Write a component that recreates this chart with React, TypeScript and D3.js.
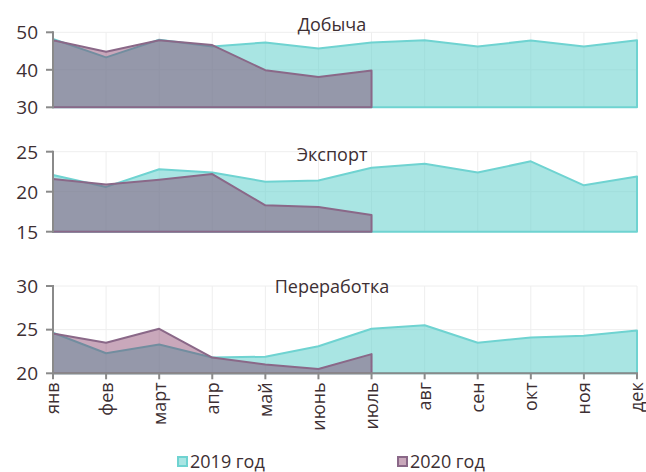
import * as React from "react"
import * as d3 from "d3"

const months = ["янв", "фев", "март", "апр", "май", "июнь", "июль", "авг", "сен", "окт", "ноя", "дек"]

const dobycha2019 = [48.2, 43.3, 48.0, 46.2, 47.3, 45.7, 47.3, 47.9, 46.2, 47.8, 46.2, 47.9]
const dobycha2020 = [47.9, 44.8, 47.9, 46.6, 39.9, 38.1, 39.8]
const eksport2019 = [22.1, 20.6, 22.8, 22.4, 21.25, 21.4, 23.0, 23.5, 22.4, 23.8, 20.8, 21.9]
const eksport2020 = [21.6, 20.9, 21.5, 22.2, 18.3, 18.1, 17.1]
const pererab2019 = [24.65, 22.3, 23.3, 21.8, 21.9, 23.1, 25.1, 25.5, 23.5, 24.1, 24.3, 24.9]
const pererab2020 = [24.55, 23.5, 25.1, 21.8, 21.0, 20.5, 22.2]

const seriesNames = ["2019 год", "2020 год"]

const W = 646
const H = 472
const FONT = "'Open Sans', sans-serif"
const TEXT = "#3d2f33"

const c2019 = { fill: "#6fd3d1", fillOpacity: 0.6, stroke: "#6fd3d1" }
const c2020 = { fill: "#782555", fillOpacity: 0.4, stroke: "#8a6888" }

const panels = [
  { title: "Добыча", d2019: dobycha2019, d2020: dobycha2020, domain: [30, 50], ticks: [30, 40, 50], range: [107.3, 32.3], titleY: 31 },
  { title: "Экспорт", d2019: eksport2019, d2020: eksport2020, domain: [15, 25], ticks: [15, 20, 25], range: [231.7, 151.7], titleY: 161 },
  { title: "Переработка", d2019: pererab2019, d2020: pererab2020, domain: [20, 30], ticks: [20, 25, 30], range: [373.3, 286], titleY: 293 },
]

const x = d3.scalePoint<string>().domain(months).range([53, 637])

function Panel({ p, last }: { p: (typeof panels)[number]; last: boolean }) {
  const y = d3.scaleLinear().domain(p.domain).range(p.range)
  const bottom = y(p.domain[0])
  const top = y(p.domain[1])
  const area = d3
    .area<number>()
    .x((_d, i) => x(months[i]) as number)
    .y0(bottom)
    .y1((d) => y(d))

  return (
    <g>
      {/* grid */}
      {p.ticks.map((t) => (
        <line key={"h" + t} x1={x.range()[0]} x2={x.range()[1]} y1={y(t)} y2={y(t)} stroke="#eeeeee" />
      ))}
      {months.map((m) => (
        <line key={"v" + m} x1={x(m)} x2={x(m)} y1={top} y2={bottom} stroke="#eeeeee" />
      ))}

      <path d={area(p.d2019) ?? ""} fill={c2019.fill} fillOpacity={c2019.fillOpacity} stroke={c2019.stroke} strokeWidth={2} strokeLinejoin="round" />
      <path d={area(p.d2020) ?? ""} fill={c2020.fill} fillOpacity={c2020.fillOpacity} stroke={c2020.stroke} strokeWidth={2} strokeLinejoin="round" />

      <text x={332} y={p.titleY} textAnchor="middle" fontFamily={FONT} fontSize={18} fill={TEXT}>
        {p.title}
      </text>

      {/* y axis */}
      <line x1={53} x2={53} y1={top - 1} y2={bottom + 1} stroke="#8a8a8a" strokeWidth={2} />
      {p.ticks.map((t) => (
        <g key={"t" + t}>
          <line x1={46} x2={53} y1={y(t)} y2={y(t)} stroke="#8a8a8a" strokeWidth={2} />
          <text x={38} y={y(t)} dy="0.36em" textAnchor="end" fontFamily={FONT} fontSize={19} fill={TEXT}>
            {t}
          </text>
        </g>
      ))}

      {last && (
        <g>
          <line x1={52} x2={638} y1={bottom} y2={bottom} stroke="#8a8a8a" strokeWidth={2} />
          {months.map((m) => (
            <g key={"x" + m} transform={`translate(${x(m)},${bottom})`}>
              <line y1={0} y2={6} stroke="#8a8a8a" strokeWidth={2} />
              <text transform="rotate(-90)" x={-9} dy="0.36em" textAnchor="end" fontFamily={FONT} fontSize={18} fill={TEXT}>
                {m}
              </text>
            </g>
          ))}
        </g>
      )}
    </g>
  )
}

export default function App() {
  const legend = [
    { name: seriesNames[0], c: c2019, x: 177 },
    { name: seriesNames[1], c: c2020, x: 397 },
  ]
  return (
    <svg width={W} height={H} style={{ position: "absolute", left: 0, top: 0, background: "#fff" }}>
      {panels.map((p, i) => (
        <Panel key={p.title} p={p} last={i === panels.length - 1} />
      ))}
      {legend.map((l) => (
        <g key={l.name}>
          <rect x={l.x + 1} y={457} width={9} height={9} fill={l.c.fill} fillOpacity={l.c.fillOpacity} stroke={l.c.stroke} strokeWidth={2} />
          <text x={l.x + 13} y={468} fontFamily={FONT} fontSize={18} fill={TEXT}>
            {l.name}
          </text>
        </g>
      ))}
    </svg>
  )
}
